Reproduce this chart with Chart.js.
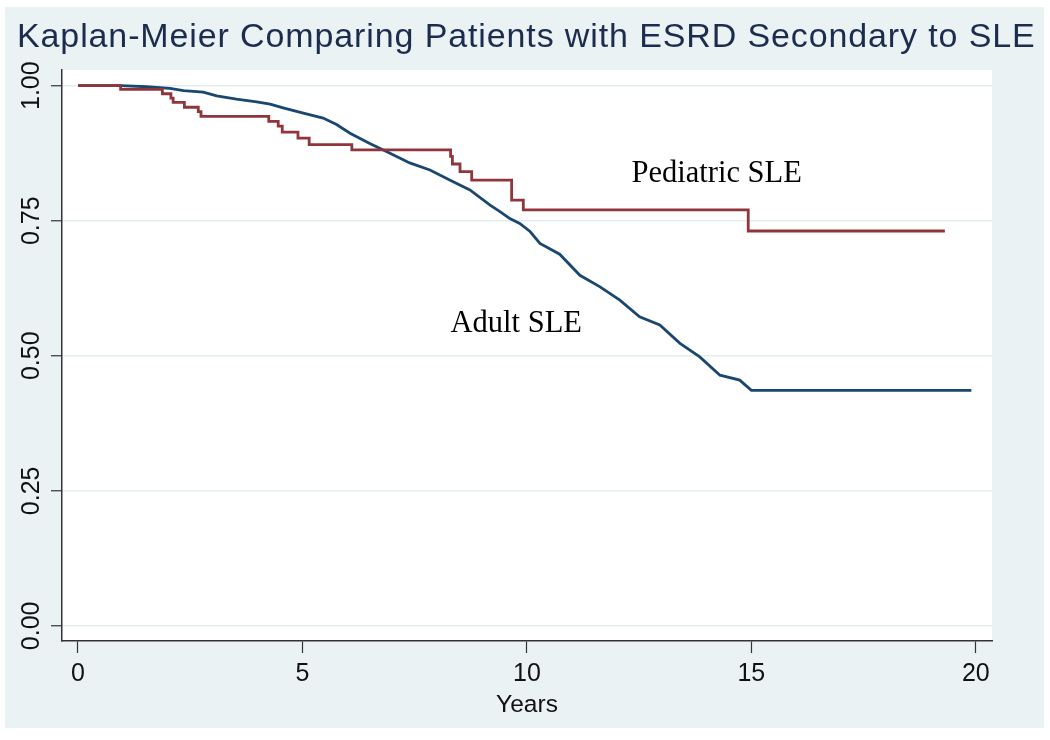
<!DOCTYPE html>
<html>
<head>
<meta charset="utf-8">
<script src="https://cdn.jsdelivr.net/npm/chart.js@4/dist/chart.umd.min.js"></script>
<style>
  html, body { margin: 0; padding: 0; background: #fff; }
  #wrap { width: 1050px; height: 740px; }
</style>
</head>
<body>
<div id="wrap"><canvas id="km" width="1050" height="740"></canvas></div>
<script>
// survival curves (years, survival)
const pedYears = [0, 0.95, 1.88, 2.07, 2.12, 2.37, 2.68, 2.74, 4.25, 4.46, 4.55, 4.9, 5.15, 6.1, 8.3, 8.34, 8.51, 8.77, 9.66, 9.92, 14.93, 19.31];
const pedSurv  = [1.0, 0.993, 0.985, 0.977, 0.969, 0.960, 0.952, 0.943, 0.934, 0.925, 0.914, 0.903, 0.891, 0.881, 0.869, 0.855, 0.841, 0.825, 0.788, 0.770, 0.731, 0.731];

const adultYears = [0, 0.95, 1.53, 2.05, 2.35, 2.79, 3.09, 3.53, 3.98, 4.28, 4.57, 5.02, 5.46, 5.76, 6.06, 6.5, 6.95, 7.39, 7.84, 8.29, 8.73, 9.18, 9.4, 9.62, 9.84, 10.07, 10.29, 10.73, 11.18, 11.62, 12.07, 12.51, 12.96, 13.41, 13.85, 14.3, 14.74, 15.0, 19.9];
const adultSurv  = [1.0, 1.0, 0.998, 0.995, 0.991, 0.988, 0.981, 0.975, 0.970, 0.966, 0.959, 0.949, 0.940, 0.928, 0.912, 0.893, 0.875, 0.857, 0.844, 0.825, 0.807, 0.779, 0.767, 0.754, 0.745, 0.730, 0.708, 0.688, 0.649, 0.628, 0.603, 0.572, 0.557, 0.523, 0.498, 0.464, 0.455, 0.436, 0.436];

const xTicks = [0, 5, 10, 15, 20];
const yTicks = [0, 0.25, 0.5, 0.75, 1.0];

// curve labels: text, x (years), y (survival) of baseline start
const curveLabels = ['Pediatric SLE', 'Adult SLE'];
const labelYears = [12.33, 8.3];
const labelSurv = [0.822, 0.544];

const titleText = 'Kaplan-Meier Comparing Patients with ESRD Secondary to SLE';

const BG = '#EAF2F3';
const AXIS = '#333333';
const SANS = '"Liberation Sans", Arial, sans-serif';

const toPoints = (xs, ys) => xs.map((x, i) => ({ x: x, y: ys[i] }));

const panelPlugin = {
  id: 'panel',
  beforeDraw(chart) {
    const { ctx, chartArea: a } = chart;
    ctx.save();
    ctx.fillStyle = '#ffffff';
    ctx.fillRect(0, 0, chart.width, chart.height);
    ctx.fillStyle = BG;
    ctx.fillRect(5, 7, 1039, 721);
    ctx.fillStyle = '#ffffff';
    ctx.fillRect(a.left, a.top, a.right - a.left, a.bottom - a.top);
    ctx.restore();
  },
  afterDraw(chart) {
    // title, spread a little to match the original's wider lettering
    const ctx = chart.ctx;
    ctx.save();
    ctx.font = '34px ' + SANS;
    ctx.fillStyle = '#1C2C4E';
    ctx.textBaseline = 'alphabetic';
    ctx.textAlign = 'left';
    const w = ctx.measureText(titleText).width;
    const spacing = (1018 - w) / (titleText.length - 1);
    ctx.letterSpacing = spacing.toFixed(2) + 'px';
    ctx.fillText(titleText, 17, 46.5);
    ctx.restore();
  }
};

const labelPlugin = {
  id: 'curveLabels',
  afterDatasetsDraw(chart) {
    const { ctx, scales } = chart;
    ctx.save();
    ctx.font = '30.5px "Liberation Serif", "Times New Roman", serif';
    ctx.fillStyle = '#000';
    ctx.textBaseline = 'alphabetic';
    ctx.textAlign = 'left';
    curveLabels.forEach((t, i) => {
      ctx.fillText(t, scales.x.getPixelForValue(labelYears[i]), scales.y.getPixelForValue(labelSurv[i]));
    });
    ctx.restore();
  }
};

new Chart(document.getElementById('km'), {
  type: 'line',
  data: {
    datasets: [
      {
        label: 'Pediatric SLE',
        data: toPoints(pedYears, pedSurv),
        borderColor: '#90353B',
        borderWidth: 2.8,
        pointRadius: 0,
        stepped: true,
        fill: false
      },
      {
        label: 'Adult SLE',
        data: toPoints(adultYears, adultSurv),
        borderColor: '#1A476F',
        borderWidth: 2.8,
        pointRadius: 0,
        tension: 0,
        fill: false
      }
    ]
  },
  options: {
    responsive: false,
    animation: false,
    layout: { padding: { top: 70, right: 58, bottom: 0, left: 0 } },
    plugins: {
      legend: { display: false },
      tooltip: { enabled: false },
      title: { display: false }
    },
    scales: {
      x: {
        type: 'linear',
        min: -0.356,
        max: 20.36,
        afterBuildTicks: s => { s.ticks = xTicks.map(v => ({ value: v })); },
        afterFit: s => { s.height = 99; },
        grid: { drawOnChartArea: false, drawTicks: true, tickLength: 12, tickColor: AXIS, tickWidth: 1.2 },
        border: { display: true, color: AXIS, width: 1.5 },
        ticks: {
          color: '#111',
          padding: 6,
          maxRotation: 0,
          font: { family: SANS, size: 25 },
          callback: v => String(v)
        },
        title: {
          display: true,
          text: 'Years',
          color: '#111',
          font: { family: SANS, size: 24.5 },
          padding: { top: 0, bottom: 20 }
        }
      },
      y: {
        type: 'linear',
        min: -0.028,
        max: 1.029,
        afterBuildTicks: s => { s.ticks = yTicks.map(v => ({ value: v })); },
        afterFit: s => { s.width = 62; },
        grid: { color: '#E4EEF0', lineWidth: 1.5, drawTicks: true, tickLength: 11, tickColor: AXIS, tickWidth: 1.2 },
        border: { display: true, color: AXIS, width: 1.5 },
        ticks: {
          color: '#111',
          minRotation: 90,
          maxRotation: 90,
          crossAlign: 'center',
          padding: -5.3,
          font: { family: SANS, size: 25 },
          callback: v => v.toFixed(2)
        }
      }
    }
  },
  plugins: [panelPlugin, labelPlugin]
});
</script>
</body>
</html>
